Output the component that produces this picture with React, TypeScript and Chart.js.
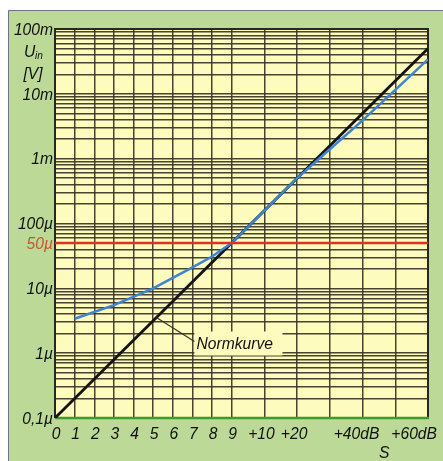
import React, { useEffect, useRef } from "react";
import { Chart, registerables } from "chart.js";
Chart.register(...registerables);

// X axis: S-units (6 dB each) and dB over S9
const sUnitLabels = ["0", "1", "2", "3", "4", "5", "6", "7", "8", "9"];
const sUnitDb = [0, 6, 12, 18, 24, 30, 36, 42, 48, 54];
const overS9Labels = ["+10", "+20", "", "+40dB", "", "+60dB"];
const overS9Db = [64, 74, 84, 94, 104, 114];

// Y axis (log, volts)
const decadeValues = [1e-7, 1e-6, 1e-5, 1e-4, 1e-3, 1e-2, 1e-1];
const decadeLabels = ["0,1µ", "1µ", "10µ", "100µ", "1m", "10m", "100m"];
const minorMultipliers = [1, 2, 3, 4, 5, 6, 7, 8, 9];

// Normkurve (S0 = 0.1 µV, S9+60 dB = 50 mV)
const normDb = [0, 114];
const normV = [1e-7, 5e-2];

// measured curve
const measDb = [6, 18, 30, 42, 48, 54, 64, 74, 84, 94, 104, 114];
const measV = [3.4e-6, 5.5e-6, 1.0e-5, 2.1e-5, 3.1e-5, 5.0e-5, 1.58e-4, 5.0e-4, 1.4e-3, 3.9e-3, 1.15e-2, 3.4e-2];

// S9 reference level
const refDb = [0, 114];
const refV = [5e-5, 5e-5];
const refLabel = "50µ";

const GREEN = "#bdd998";
const YELLOW = "#fdfbbd";
const GRID = "rgba(58,52,38,0.92)";
const FAMILY = '"Liberation Sans", Arial, sans-serif';
const FONT = "italic 17px " + FAMILY;
const SX = 0.92;

const pts = (xs: number[], ys: number[]) => xs.map((x, i) => ({ x, y: ys[i] }));

function txt(ctx: CanvasRenderingContext2D, t: string, x: number, y: number, align: CanvasTextAlign) {
  ctx.save();
  ctx.translate(x, y);
  ctx.scale(SX, 1);
  ctx.textAlign = align;
  ctx.fillText(t, 0, 0);
  ctx.restore();
}

export default function App() {
  const ref = useRef<HTMLCanvasElement>(null);
  useEffect(() => {
    const canvas = ref.current!;
    const deco = {
      id: "deco",
      beforeDraw(chart: any) {
        const { ctx, chartArea: a, width: w, height: h } = chart;
        ctx.save();
        ctx.fillStyle = "#ffffff";
        ctx.fillRect(0, 0, w, h);
        ctx.fillStyle = GREEN;
        ctx.fillRect(8, 10, w - 8, h - 10);
        ctx.strokeStyle = "#6b7580";
        ctx.lineWidth = 1;
        ctx.beginPath();
        ctx.moveTo(8.5, h);
        ctx.lineTo(8.5, 10.5);
        ctx.lineTo(w, 10.5);
        ctx.stroke();
        ctx.fillStyle = YELLOW;
        ctx.fillRect(a.left, a.top, a.width, a.height);
        ctx.restore();
      },
      beforeDatasetsDraw(chart: any) {
        const { ctx, chartArea: a } = chart;
        ctx.save();
        ctx.lineWidth = 2;
        ctx.strokeStyle = "#2a2620";
        ctx.beginPath();
        ctx.moveTo(a.left, a.bottom);
        ctx.lineTo(a.left, a.top);
        ctx.lineTo(a.right, a.top);
        ctx.lineTo(a.right, a.bottom);
        ctx.stroke();
        ctx.strokeStyle = "#3f9a2a";
        ctx.lineWidth = 2.5;
        ctx.beginPath();
        ctx.moveTo(a.left, a.bottom);
        ctx.lineTo(a.right + 1, a.bottom);
        ctx.stroke();
        ctx.restore();
      },
      afterDraw(chart: any) {
        const { ctx, chartArea: a } = chart;
        const xs = chart.scales.x;
        const ys = chart.scales.y;
        ctx.save();
        ctx.font = FONT;
        ctx.fillStyle = "#111";
        ctx.textBaseline = "middle";
        // y labels
        decadeValues.forEach((v, i) => {
          txt(ctx, decadeLabels[i], a.left - 2, ys.getPixelForValue(v) + 1, "right");
        });
        ctx.fillStyle = "#c8552e";
        txt(ctx, refLabel, a.left - 2, ys.getPixelForValue(refV[0]) + 1, "right");
        // axis title U_in [V]
        ctx.fillStyle = "#111";
        txt(ctx, "U", 24, a.top + 23, "left");
        ctx.font = "italic 11px " + FAMILY;
        txt(ctx, "in", 35, a.top + 27, "left");
        ctx.font = FONT;
        txt(ctx, "[V]", 33, a.top + 45, "center");
        // x labels
        const allDb = sUnitDb.concat(overS9Db);
        const allLab = sUnitLabels.concat(overS9Labels);
        allDb.forEach((d, i) => {
          const t = allLab[i];
          if (!t) return;
          let cx = xs.getPixelForValue(d) + (t.length > 1 ? -3 : 1);
          if (t.endsWith("dB")) cx -= 3;
          const tw = ctx.measureText(t).width * SX;
          if (cx + tw / 2 > a.right + 9) cx = a.right + 9 - tw / 2;
          txt(ctx, t, cx, a.bottom + 16, "center");
        });
        const sx = (xs.getPixelForValue(overS9Db[3]) + xs.getPixelForValue(overS9Db[5])) / 2 - 11;
        txt(ctx, "S", sx, a.bottom + 35, "center");
        // Normkurve annotation
        const dbAt = 31;
        const lv = Math.log10(normV[0]) + (dbAt - normDb[0]) / (normDb[1] - normDb[0]) * (Math.log10(normV[1]) - Math.log10(normV[0]));
        const px = xs.getPixelForValue(dbAt);
        const py = ys.getPixelForValue(Math.pow(10, lv));
        const tx = px + 40;
        const ty = py + 26;
        ctx.fillStyle = YELLOW;
        ctx.fillRect(tx - 2, ty - 12, 88, 24);
        ctx.strokeStyle = "#3a3428";
        ctx.lineWidth = 1.2;
        ctx.beginPath();
        ctx.moveTo(px, py);
        ctx.lineTo(tx - 2, ty - 2);
        ctx.stroke();
        ctx.fillStyle = "#111";
        txt(ctx, "Normkurve", tx, ty + 1, "left");
        ctx.restore();
      },
    };
    const yTicks: number[] = [];
    decadeValues.slice(0, -1).forEach((d) => minorMultipliers.forEach((m) => yTicks.push(m * d)));
    yTicks.push(decadeValues[decadeValues.length - 1]);
    const xTicks = sUnitDb.concat(overS9Db);

    const chart = new Chart(canvas, {
      type: "line",
      data: {
        datasets: [
          { data: pts(refDb, refV), borderColor: "#dc3220", borderWidth: 2.5, pointRadius: 0, tension: 0 },
          { data: pts(measDb, measV), borderColor: "#3c84d4", borderWidth: 2.5, pointRadius: 0, tension: 0 },
          { data: pts(normDb, normV), borderColor: "#141414", borderWidth: 2.8, pointRadius: 0, tension: 0 },
        ],
      },
      options: {
        responsive: false,
        animation: false,
        devicePixelRatio: 1,
        layout: { padding: { left: 55, top: 29, right: 15, bottom: 43 } },
        plugins: { legend: { display: false }, tooltip: { enabled: false } },
        scales: {
          x: {
            type: "linear",
            min: 0,
            max: 114,
            afterBuildTicks: (s: any) => { s.ticks = xTicks.map((v) => ({ value: v })); },
            ticks: { display: false },
            grid: { color: GRID, lineWidth: 1.5, drawTicks: false },
            border: { display: false },
          },
          y: {
            type: "logarithmic",
            min: 1e-7,
            max: 1e-1,
            afterBuildTicks: (s: any) => { s.ticks = yTicks.map((v) => ({ value: v })); },
            ticks: { display: false },
            grid: { color: GRID, lineWidth: 1.5, drawTicks: false },
            border: { display: false },
          },
        },
      },
      plugins: [deco],
    } as any);
    return () => chart.destroy();
  }, []);
  return (
    <div style={{ position: "fixed", left: 0, top: 0, width: 443, height: 461 }}>
      <canvas ref={ref} width={443} height={461} style={{ display: "block", width: 443, height: 461 }} />
    </div>
  );
}
